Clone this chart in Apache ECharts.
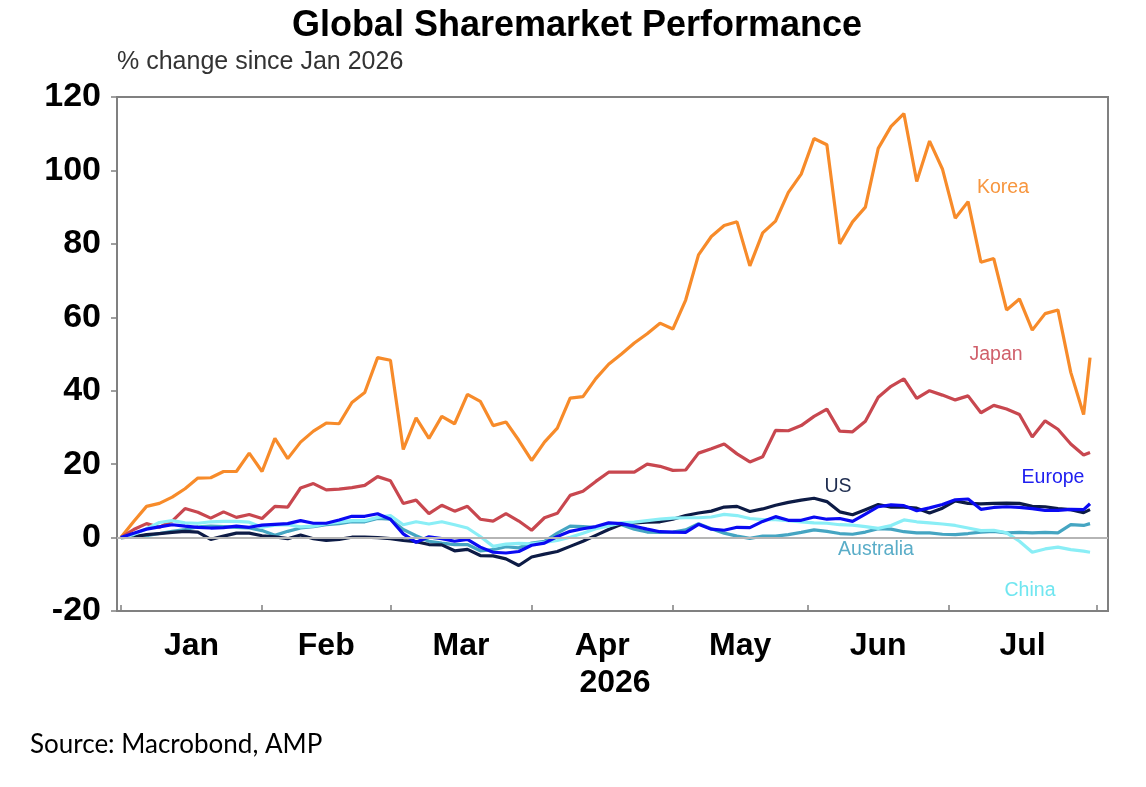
<!DOCTYPE html>
<html>
<head>
<meta charset="utf-8">
<script src="https://cdn.jsdelivr.net/npm/echarts@6/dist/echarts.min.js"></script>
<style>
html,body{margin:0;padding:0;background:#fff;}
#chart{width:1146px;height:787px;}
</style>
</head>
<body>
<div id="chart"></div>
<script>
// Sample dates (business days)
var dates = ['2026-01-01','2026-01-05','2026-01-07','2026-01-09','2026-01-13','2026-01-15','2026-01-19','2026-01-21','2026-01-23','2026-01-27','2026-01-29',
'2026-02-02','2026-02-04','2026-02-06','2026-02-10','2026-02-12','2026-02-16','2026-02-18','2026-02-20','2026-02-24','2026-02-26',
'2026-03-02','2026-03-04','2026-03-06','2026-03-10','2026-03-12','2026-03-16','2026-03-18','2026-03-20','2026-03-24','2026-03-26',
'2026-03-30','2026-04-01','2026-04-03','2026-04-07','2026-04-09','2026-04-13','2026-04-15','2026-04-17','2026-04-21','2026-04-23',
'2026-04-27','2026-04-29','2026-05-01','2026-05-05','2026-05-07','2026-05-11','2026-05-13','2026-05-15','2026-05-19','2026-05-21',
'2026-05-25','2026-05-27','2026-05-29','2026-06-02','2026-06-04','2026-06-08','2026-06-10','2026-06-12','2026-06-16','2026-06-18',
'2026-06-22','2026-06-24','2026-06-26','2026-06-30','2026-07-02','2026-07-06','2026-07-08','2026-07-10','2026-07-14','2026-07-16',
'2026-07-20','2026-07-22','2026-07-24','2026-07-28','2026-07-30','2026-07-31'];

var korea = [0,4.4,8.5,9.3,11,13.3,16.2,16.3,18,18,23,
18,27,21.5,26,29,31.2,31,36.8,39.5,49,
48.3,24,32.6,27,33,31,39,37.1,30.5,31.5,
26.5,21,26,29.8,38,38.4,43.3,47.2,50,53,
55.5,58.4,56.8,64.7,77,82,85,86,74,83,
86.2,94,99,108.7,107,80,86,90,106,112,
115.5,97,108,100.4,87,91.5,75,76,62,65,
56.5,61,62,45,33.5,49];

var japan = [0,2.2,3.8,2.8,4.5,7.9,6.9,5.3,7,5.5,6.3,
5.2,8.5,8.3,13.5,14.7,13,13.2,13.6,14.2,16.6,
15.5,9.3,10.2,6.5,8.8,7.2,8.5,5,4.5,6.5,
4.5,2,5.4,6.6,11.5,12.6,15.3,17.8,17.8,17.8,
20,19.4,18.3,18.4,23,24.2,25.5,22.8,20.6,22,
29.2,29.1,30.5,33,35,29,28.8,31.7,38.2,41.2,
43.2,37.9,40,38.8,37.5,38.6,34,36,35,33.5,
27.4,31.8,29.5,25.5,22.5,23.2];

var us = [0,0.2,0.8,1.1,1.4,1.7,1.5,-0.5,0.4,1.2,1.2,
0.5,0.2,-0.3,0.7,-0.3,-0.8,-0.5,0.1,0.1,0,
-0.3,-0.8,-1.1,-1.9,-2,-3.6,-3.2,-4.9,-5,-5.8,
-7.6,-5.3,-4.5,-3.8,-2.4,-1,0.6,2.2,3.6,4,
4.2,4.3,5,6,6.7,7.2,8.3,8.5,7.1,7.8,
8.8,9.6,10.2,10.7,9.8,7,6.2,7.6,9,8.3,
8.3,8,6.7,8,10,9.3,9.2,9.3,9.4,9.3,
8.5,8.4,7.9,7.6,6.8,7.6];

var europe = [0,1.2,2.3,2.9,3.5,3.1,2.8,2.6,2.7,3.1,2.8,
3.4,3.6,3.8,4.6,3.9,3.9,4.8,5.8,5.8,6.5,
5,1,-1.3,0.2,-0.3,-1,-0.5,-2.6,-4,-4.2,
-3.8,-2.1,-1.5,0.3,1.7,2.4,3,4,3.8,3.1,
2.3,1.6,1.5,1.4,3.6,2.3,2,2.8,2.7,4.4,
5.7,4.7,4.7,5.6,5,5.2,4.4,6.4,8.4,8.9,
8.7,7.3,8.1,9,10.3,10.5,7.7,8.2,8.4,8.2,
7.9,7.4,7.4,7.7,7.6,9.2];

var australia = [0,0.2,0.5,1.1,1.7,2.2,2.9,3.1,3,2.8,2.6,
1.9,0.6,1.7,2.6,3,3.5,3.8,4.3,4.3,5.2,
5,2.2,0.5,-1,-1.5,-1.9,-1.9,-3.6,-3.3,-2.5,
-2.8,-1.5,-1,1.2,3.1,3,2.7,3.5,3.5,2.3,
1.5,1.4,1.5,2.1,3.8,2.4,1.2,0.4,-0.2,0.4,
0.4,0.8,1.4,2.1,1.7,1.1,0.9,1.5,2.4,2.3,
1.6,1.3,1.3,0.9,0.8,1.1,1.5,1.7,1.3,1.4,
1.3,1.4,1.3,3.5,3.3,3.8];

var china = [0,0.8,2.4,4.1,4.6,4,3.9,4.3,4.4,4.4,4.2,
2.8,3.4,3.5,2.9,3.1,3.8,4.2,4.6,4.6,5.5,
6,3.5,4.3,3.7,4.3,3.5,2.6,0.3,-2.4,-1.8,
-1.6,-1.7,-1.3,-0.8,0.1,1.2,2.4,3.2,4,4.2,
4.6,5,5.3,5.4,5.4,5.6,6.3,6,5.2,4.9,
4.9,4.6,4.3,4,3.9,3.5,3.4,3,2.5,3.3,
4.8,4.3,4,3.7,3.3,2.6,1.9,2,1.3,-1,
-4,-3.1,-2.6,-3.3,-3.7,-4];

var monthNames = ['Jan','Feb','Mar','Apr','May','Jun','Jul'];
var monthStarts = ['2026-01-01','2026-02-01','2026-03-01','2026-04-01','2026-05-01','2026-06-01','2026-07-01','2026-08-01'];
var yTicks = {min:-20, max:120, interval:20};

// business-day index since 1 Jan 2026
function bd(s){
  var end = Date.UTC(+s.slice(0,4), +s.slice(5,7)-1, +s.slice(8,10));
  var n = 0;
  for (var t = Date.UTC(2026,0,1); t < end; t += 86400000){
    var w = new Date(t).getUTCDay();
    if (w !== 0 && w !== 6) n++;
  }
  return n;
}
var xs = dates.map(bd);
var tickVals = monthStarts.map(bd);
var midVals = [];
for (var i = 0; i < monthNames.length; i++) midVals.push((tickVals[i] + tickVals[i+1]) / 2);

function pairs(vals){ return vals.map(function(v,i){ return [xs[i], v]; }); }

var chart = echarts.init(document.getElementById('chart'), null, {renderer:'canvas'});
function line(name, vals, color, extra){
  var s = {name:name, type:'line', data:pairs(vals), showSymbol:false, symbol:'none', smooth:false,
    lineStyle:{color:color, width:3.2}, itemStyle:{color:color}, animation:false, silent:true};
  if (extra) for (var k in extra) s[k] = extra[k];
  return s;
}
var FONT = '"Liberation Sans", Arial, sans-serif';
chart.setOption({
  animation:false,
  backgroundColor:'#ffffff',
  grid:{left:117, right:38, top:97, bottom:176, show:true, borderColor:'#808080', borderWidth:2, containLabel:false},
  xAxis:{type:'value', min:-0.6, max:153.8,
    axisLine:{show:true, onZero:false, lineStyle:{color:'#808080', width:2}},
    axisTick:{show:true, inside:true, length:6, customValues:tickVals, lineStyle:{color:'#808080', width:1.5}},
    axisLabel:{customValues:midVals, margin:19, color:'#000', fontFamily:FONT, fontWeight:'bold', fontSize:32,
      formatter:function(v){ for (var i=0;i<midVals.length;i++){ if (Math.abs(midVals[i]-v)<0.01) return monthNames[i]; } return ''; }},
    splitLine:{show:false}},
  yAxis:{type:'value', min:yTicks.min, max:yTicks.max, interval:yTicks.interval,
    axisLine:{show:true, onZero:false, lineStyle:{color:'#808080', width:2}},
    axisTick:{show:true, inside:false, length:6, lineStyle:{color:'#808080', width:1.5}},
    axisLabel:{margin:16, color:'#000', fontFamily:FONT, fontWeight:'bold', fontSize:34},
    splitLine:{show:false}},
  series:[
    line('Korea', korea, '#F78B2A', {markLine:{silent:true, symbol:'none', animation:false,
      label:{show:false}, lineStyle:{color:'#b5b5b5', width:2, type:'solid'}, data:[{yAxis:0}]}}),
    line('Japan', japan, '#C8474F'),
    line('Australia', australia, '#45A5C2'),
    line('US', us, '#0D1B45'),
    line('China', china, '#8AEEF6'),
    line('Europe', europe, '#0A0AF2')
  ],
  graphic:[
    {type:'text', x:577, y:26, style:{text:'Global Sharemarket Performance', font:'bold 36px '+FONT, fill:'#000', align:'center', verticalAlign:'middle'}},
    {type:'text', x:117, y:62, style:{text:'% change since Jan 2026', font:'25px '+FONT, fill:'#333', verticalAlign:'middle'}},
    {type:'text', x:615, y:683, style:{text:'2026', font:'bold 32px '+FONT, fill:'#000', align:'center', verticalAlign:'middle'}},
    {type:'text', x:30, y:745, style:{text:'Source: Macrobond, AMP', font:'26px Lato, "Noto Sans", sans-serif', fill:'#000', verticalAlign:'middle'}},
    {type:'text', x:1003, y:188, style:{text:'Korea', font:'19.5px '+FONT, fill:'#F7963F', align:'center', verticalAlign:'middle'}},
    {type:'text', x:996, y:355, style:{text:'Japan', font:'19.5px '+FONT, fill:'#D0606B', align:'center', verticalAlign:'middle'}},
    {type:'text', x:838, y:487, style:{text:'US', font:'19.5px '+FONT, fill:'#1F2D50', align:'center', verticalAlign:'middle'}},
    {type:'text', x:1053, y:478, style:{text:'Europe', font:'19.5px '+FONT, fill:'#2020F0', align:'center', verticalAlign:'middle'}},
    {type:'text', x:876, y:550, style:{text:'Australia', font:'19.5px '+FONT, fill:'#5AADC8', align:'center', verticalAlign:'middle'}},
    {type:'text', x:1030, y:591, style:{text:'China', font:'19.5px '+FONT, fill:'#70E6F0', align:'center', verticalAlign:'middle'}}
  ]
});
</script>
</body>
</html>
